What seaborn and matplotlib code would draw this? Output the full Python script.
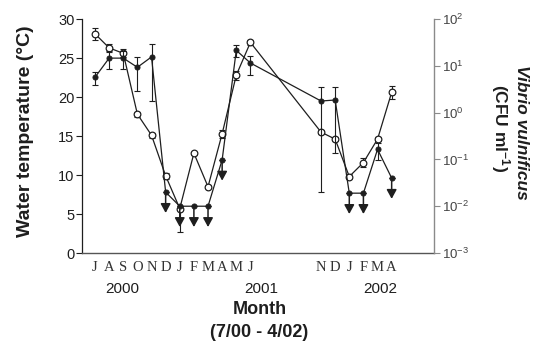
import matplotlib
matplotlib.use("Agg")
import matplotlib.pyplot as plt
import matplotlib.transforms as mtransforms
import numpy as np
import pandas as pd
import seaborn as sns

# Sampling months, counted from July 2000 (0) to April 2002 (21)
month_index = [0, 1, 2, 3, 4, 5, 6, 7, 8, 9, 10, 11, 16, 17, 18, 19, 20, 21]
month_letters = ["J", "A", "S", "O", "N", "D", "J", "F", "M", "A", "M", "J",
                 "N", "D", "J", "F", "M", "A"]
years = ["2000", "2001", "2002"]

# Water temperature (deg C), mean and error bar extents
temperature = [28.1, 26.3, 25.6, 17.8, 15.1, 9.9, 5.7, 12.8, 8.5, 15.3, 22.8, 27.0,
               15.5, 14.6, 9.8, 11.6, 14.6, 20.6]
temp_err_low = [0.8, 0.5, 0.5, 0.3, 0.3, 0.4, 3.0, 0.2, 0.2, 0.5, 0.6, 0.3,
                0.3, 0.3, 0.3, 0.6, 0.3, 0.8]
temp_err_high = [0.8, 0.5, 0.5, 0.3, 0.3, 0.4, 0.0, 0.2, 0.2, 0.5, 0.6, 0.3,
                 0.3, 0.3, 0.3, 0.6, 0.3, 0.8]

# Vibrio vulnificus counts (CFU per ml) and standard errors
vibrio = [5.7, 14.6, 14.6, 9.3, 15.5, 0.020, 0.010, 0.010, 0.010, 0.098, 21.4, 11.5,
          1.77, 1.86, 0.019, 0.019, 0.164, 0.040]
vibrio_err = [1.8, 6.0, 6.0, 6.4, 13.7, 0.0, 0.0, 0.0, 0.0, 0.0, 6.0, 5.0,
              1.75, 1.72, 0.0, 0.0, 0.065, 0.0]
# counts at or below the detection limit
below_limit = [False, False, False, False, False, True, True, True, True, True,
               False, False, False, False, True, True, False, True]

df = pd.DataFrame({"month": month_index, "temperature": temperature,
                   "vibrio": vibrio})

sns.set_theme(style="ticks")
plt.rcParams["font.family"] = ["Liberation Sans", "DejaVu Sans"]
plt.rcParams["mathtext.fontset"] = "custom"
plt.rcParams["mathtext.rm"] = "Liberation Sans"
plt.rcParams["mathtext.it"] = "Liberation Sans:italic"
plt.rcParams["mathtext.bf"] = "Liberation Sans:bold"

ink = "#1e1e1e"
grey = "#8a8a8a"

fig = plt.figure(figsize=(5.35, 3.44), dpi=100)
ax = fig.add_axes([0.1533, 0.2645, 0.658, 0.6802])
ax2 = ax.twinx()
ax2.set_position(ax.get_position())
ax2.set_yscale("log")

# temperature series: open markers on the left axis
ax.errorbar(df["month"], df["temperature"],
            yerr=[temp_err_low, temp_err_high], fmt="none",
            ecolor=ink, elinewidth=0.8, capsize=2.5, capthick=0.8, zorder=2)
sns.lineplot(data=df, x="month", y="temperature", ax=ax, sort=False,
             color=ink, linewidth=0.9, marker="o", markersize=4.8,
             markerfacecolor="white", markeredgecolor=ink,
             markeredgewidth=0.9, errorbar=None, zorder=3)

# Vibrio series: filled markers on the log right axis
ax2.errorbar(df["month"], df["vibrio"],
             yerr=[np.minimum(vibrio_err, np.array(vibrio) * 0.999), vibrio_err],
             fmt="none", ecolor=ink, elinewidth=0.8, capsize=2.5,
             capthick=0.8, zorder=2)
sns.lineplot(data=df, x="month", y="vibrio", ax=ax2, sort=False,
             color=ink, linewidth=0.9, marker="o", markersize=3.6,
             markerfacecolor=ink, markeredgecolor=ink, errorbar=None, zorder=3)

# downward arrows for values at the detection limit
arrow_tip = mtransforms.offset_copy(ax2.transData, fig=fig, x=0, y=-15,
                                    units="points")
for m, v, flag in zip(month_index, vibrio, below_limit):
    if flag:
        ax2.annotate("", xy=(m, v), xycoords=arrow_tip,
                     xytext=(m, v), textcoords="data",
                     arrowprops=dict(arrowstyle="-|>,head_length=0.55,head_width=0.3",
                                     color=ink, lw=1.1, shrinkA=2, shrinkB=0,
                                     mutation_scale=10),
                     zorder=4)

ax.set_xlim(-0.92, 24.0)
ax.set_ylim(0, 30)
ax2.set_ylim(1e-3, 1e2)

ax.set_yticks([0, 5, 10, 15, 20, 25, 30])
ax.set_xticks(month_index)
ax.set_xticklabels(month_letters, family=["Liberation Serif"], fontsize=10.5,
                   color="#333333")
ax.tick_params(axis="x", length=0, pad=5.5)
ax.tick_params(axis="y", length=4, width=0.8, color=ink, labelsize=10.5,
               labelcolor=ink, pad=1.5)
ax2.set_yticks([1e-3, 1e-2, 1e-1, 1e0, 1e1, 1e2])
ax2.yaxis.set_minor_locator(matplotlib.ticker.NullLocator())
ax2.tick_params(axis="y", length=4, width=0.8, color=grey, labelsize=9.5,
                labelcolor="#444444", pad=1.5)

ax.set_xlabel("")
ax.set_ylabel("")
ax2.set_ylabel("")

for s in ["top", "right"]:
    ax.spines[s].set_visible(False)
for s in ["top", "left", "bottom"]:
    ax2.spines[s].set_visible(False)
ax.spines["left"].set_color(ink)
ax.spines["left"].set_linewidth(0.9)
ax.spines["bottom"].set_color("#555555")
ax.spines["bottom"].set_linewidth(1.0)
ax2.spines["right"].set_color(grey)
ax2.spines["right"].set_linewidth(1.0)

# year labels under the month letters
year_at = mtransforms.blended_transform_factory(ax.transData, ax.transAxes)
for pos, yr in zip([1.9, 11.8, 20.2], years):
    ax.text(pos, -0.155, yr, transform=year_at, ha="center", va="center",
            fontsize=11, color=ink)

fig.text(0.486, 0.100, "Month", ha="center", va="center", fontsize=13,
         fontweight="bold", color=ink)
fig.text(0.484, 0.033, "(7/00 - 4/02)", ha="center", va="center", fontsize=13,
         fontweight="bold", color=ink)

fig.text(0.047, 0.619, "Water temperature (°C)", rotation=90, ha="center",
         va="center", fontsize=14, fontweight="bold", color=ink)
fig.text(0.975, 0.615, "Vibrio vulnificus", rotation=270, ha="center",
         va="center", fontsize=12.5, fontweight="bold", fontstyle="italic",
         color=ink)
fig.text(0.935, 0.628, r"(CFU ml$^{\mathbf{-1}}$)", rotation=270, ha="center",
         va="center", fontsize=12.5, fontweight="bold", color=ink)

fig.savefig("out.png", dpi=100)
